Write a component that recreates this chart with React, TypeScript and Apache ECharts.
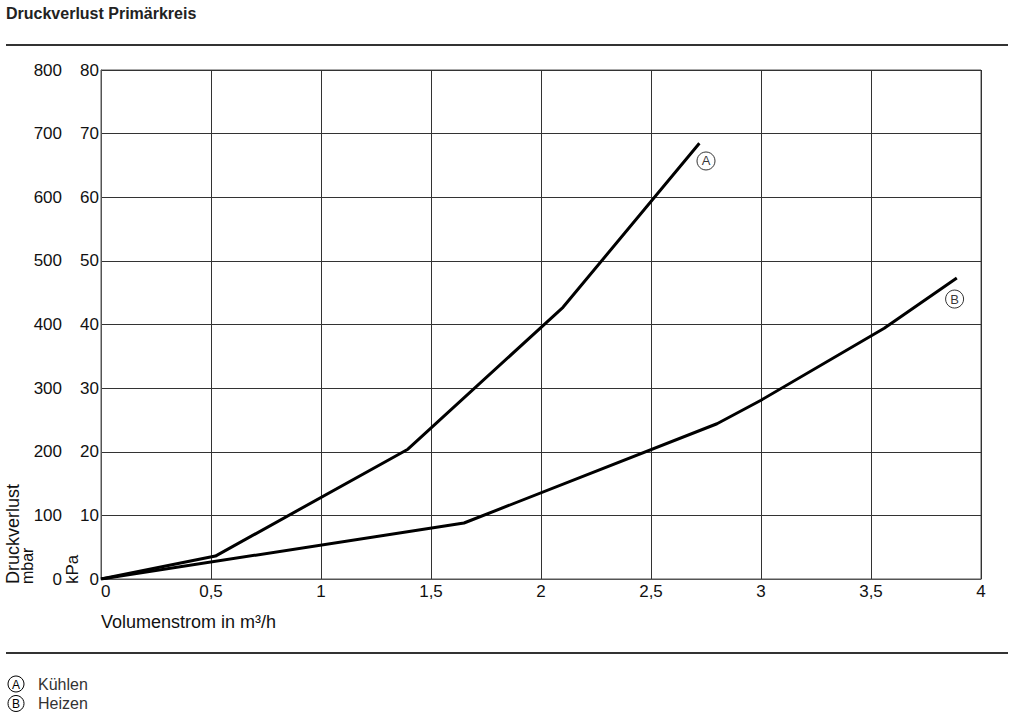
import React, { useEffect, useRef } from "react";
import * as echarts from "echarts";

const FONT = "'Liberation Sans', Arial, Helvetica, sans-serif";

const xTicks = { min: 0, max: 4, interval: 0.5 };
const kpaTicks = { min: 0, max: 80, interval: 10 };
const mbarTicks = { min: 0, max: 800, interval: 100 };

const kuehlen: [number, number][] = [
  [0, 0],
  [0.52, 3.6],
  [1.395, 20.4],
  [2.1, 42.7],
  [2.72, 68.5],
];
const heizen: [number, number][] = [
  [0, 0],
  [1.65, 8.8],
  [2.8, 24.4],
  [3.0, 28.1],
  [3.56, 39.4],
  [3.89, 47.3],
];
const markerA: [number, number] = [2.75, 65.7];
const markerB: [number, number] = [3.88, 44.0];

const title = "Druckverlust Primärkreis";
const xName = "Volumenstrom in m³/h";
const legendItems = [
  { key: "A", label: "Kühlen" },
  { key: "B", label: "Heizen" },
];

export default function App() {
  const ref = useRef<HTMLDivElement>(null);
  useEffect(() => {
    if (!ref.current) return;
    const chart = echarts.init(ref.current, null, { renderer: "svg" });
    const textColor = "#111";
    const gridColor = "#333";
    const tickSize = 17;
    const markerSeries = (pt: [number, number], key: string) => ({
      type: "scatter",
      data: [pt],
      symbol: "circle",
      symbolSize: 18,
      itemStyle: { color: "#fff", borderColor: "#000", borderWidth: 1 },
      label: {
        show: true,
        position: "inside",
        formatter: key,
        color: "#000",
        fontSize: 13,
        fontFamily: FONT,
      },
      silent: true,
      z: 5,
    });
    const rotText = (text: string, x: number, size: number) => ({
      type: "text",
      x,
      y: 584,
      rotation: Math.PI / 2,
      style: {
        text,
        font: `${size}px ${FONT}`,
        fill: textColor,
        verticalAlign: "top",
        align: "left",
      },
    });
    const graphic: any[] = [
      {
        type: "text",
        left: 6,
        top: 5,
        style: { text: title, font: `bold 16px ${FONT}`, fill: "#222" },
      },
      {
        type: "line",
        shape: { x1: 6, y1: 45, x2: 1008, y2: 45 },
        style: { stroke: "#333", lineWidth: 2 },
      },
      {
        type: "line",
        shape: { x1: 6, y1: 653, x2: 1008, y2: 653 },
        style: { stroke: "#333", lineWidth: 2 },
      },
      {
        type: "text",
        x: 101,
        y: 622,
        style: {
          text: xName,
          font: `18px ${FONT}`,
          fill: textColor,
          verticalAlign: "middle",
          align: "left",
        },
      },
      rotText("Druckverlust", 4, 18),
      rotText("mbar", 19, 16),
      rotText("kPa", 64, 17),
    ];
    legendItems.forEach((it, i) => {
      const cy = 684 + i * 19.5;
      graphic.push({
        type: "circle",
        shape: { cx: 16, cy, r: 8 },
        style: { fill: "#fff", stroke: "#000", lineWidth: 1 },
      });
      graphic.push({
        type: "text",
        x: 16,
        y: cy + 0.5,
        style: {
          text: it.key,
          font: `12px ${FONT}`,
          fill: "#000",
          align: "center",
          verticalAlign: "middle",
        },
      });
      graphic.push({
        type: "text",
        x: 38,
        y: cy,
        style: {
          text: it.label,
          font: `16px ${FONT}`,
          fill: "#333",
          align: "left",
          verticalAlign: "middle",
        },
      });
    });

    chart.setOption({
      animation: false,
      backgroundColor: "#fff",
      grid: {
        left: 101,
        right: 29,
        top: 70,
        bottom: 142,
        show: true,
        borderColor: "#555",
        borderWidth: 1,
      },
      xAxis: {
        type: "value",
        ...xTicks,
        axisLine: { show: true, lineStyle: { color: "#555", width: 1 } },
        axisTick: { show: false },
        splitLine: { show: true, lineStyle: { color: gridColor, width: 1 } },
        axisLabel: {
          fontSize: tickSize,
          fontFamily: FONT,
          color: textColor,
          margin: 4,
          formatter: (v: number) => String(v).replace(".", ","),
          showMaxLabel: true,
          showMinLabel: true,
          alignMinLabel: "left",
        },
      },
      yAxis: [
        {
          type: "value",
          position: "left",
          ...kpaTicks,
          axisLine: { show: true, lineStyle: { color: "#555", width: 1 } },
          axisTick: { show: false },
          splitLine: { show: true, lineStyle: { color: gridColor, width: 1 } },
          axisLabel: {
            fontSize: tickSize,
            fontFamily: FONT,
            color: textColor,
            margin: 2,
            showMaxLabel: true,
            showMinLabel: true,
          },
        },
        {
          type: "value",
          position: "left",
          offset: 37,
          ...mbarTicks,
          axisLine: { show: false },
          axisTick: { show: false },
          splitLine: { show: false },
          axisLabel: {
            fontSize: tickSize,
            fontFamily: FONT,
            color: textColor,
            margin: 2,
            showMaxLabel: true,
            showMinLabel: true,
          },
        },
      ],
      series: [
        {
          type: "line",
          data: kuehlen,
          symbol: "none",
          lineStyle: { color: "#000", width: 3 },
          z: 3,
        },
        {
          type: "line",
          data: heizen,
          symbol: "none",
          lineStyle: { color: "#000", width: 3 },
          z: 3,
        },
        markerSeries(markerA, "A"),
        markerSeries(markerB, "B"),
      ],
      graphic,
    });
    return () => chart.dispose();
  }, []);
  return (
    <div
      ref={ref}
      style={{ position: "fixed", left: 0, top: 0, width: 1010, height: 721 }}
    />
  );
}
